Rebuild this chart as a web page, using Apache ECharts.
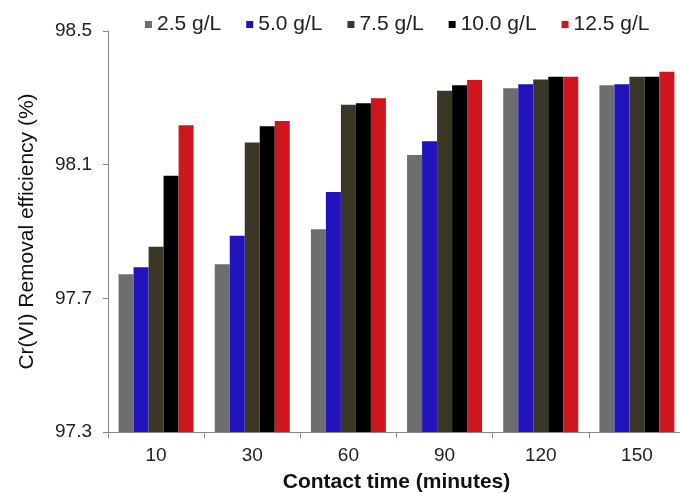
<!DOCTYPE html>
<html>
<head>
<meta charset="utf-8">
<script src="https://cdn.jsdelivr.net/npm/echarts@6/dist/echarts.min.js"></script>
<style>
  html, body { margin: 0; padding: 0; background: #fff; }
  #chart { width: 680px; height: 493px; }
</style>
</head>
<body>
<div id="chart"></div>
<script>
var categories = ["10", "30", "60", "90", "120", "150"];
var seriesNames = ["2.5 g/L", "5.0 g/L", "7.5 g/L", "10.0 g/L", "12.5 g/L"];
var dose25 = [97.772, 97.802, 97.907, 98.129, 98.329, 98.338];
var dose50 = [97.793, 97.887, 98.018, 98.170, 98.341, 98.341];
var dose75 = [97.854, 98.166, 98.279, 98.321, 98.355, 98.363];
var dose100 = [98.067, 98.215, 98.284, 98.338, 98.363, 98.363];
var dose125 = [98.218, 98.231, 98.299, 98.353, 98.363, 98.378];
var colors = ["#6e6e6e", "#2114bd", "#3a3726", "#000000", "#cf161e"];

var font = "'Liberation Sans', Arial, sans-serif";
var values = [dose25, dose50, dose75, dose100, dose125];

var series = seriesNames.map(function (name, i) {
  return {
    name: name,
    type: "bar",
    data: values[i],
    barWidth: 15,
    barGap: "0%",
    itemStyle: { color: colors[i] }
  };
});

var myChart = echarts.init(document.getElementById("chart"));
var option = {
  animation: false,
  textStyle: { fontFamily: font },
  legend: {
    data: seriesNames,
    left: 140,
    top: 9,
    icon: "rect",
    itemWidth: 7,
    itemHeight: 7,
    itemGap: 25,
    textStyle: { fontFamily: font, fontSize: 21, color: "#222" }
  },
  grid: { left: 108, top: 31, width: 577, height: 401, outerBoundsMode: "none", containLabel: false },
  xAxis: {
    type: "category",
    data: categories,
    name: "Contact time (minutes)",
    nameLocation: "middle",
    nameGap: 40,
    nameTextStyle: { fontFamily: font, fontSize: 21, fontWeight: "bold", color: "#111" },
    axisLine: { lineStyle: { color: "#8a8a8a", width: 1 } },
    axisTick: { show: true, length: 6, lineStyle: { color: "#8a8a8a" } },
    axisLabel: { fontFamily: font, fontSize: 19, color: "#222", margin: 14 }
  },
  yAxis: {
    type: "value",
    min: 97.3,
    max: 98.5,
    interval: 0.4,
    name: "Cr(VI) Removal efficiency (%)",
    nameLocation: "middle",
    nameGap: 70,
    nameTextStyle: { fontFamily: font, fontSize: 21, color: "#111" },
    axisLine: { show: true, lineStyle: { color: "#8a8a8a", width: 1 } },
    axisTick: { show: true, length: 5, lineStyle: { color: "#8a8a8a" } },
    splitLine: { show: false },
    axisLabel: {
      fontFamily: font,
      fontSize: 19,
      color: "#222",
      margin: 16,
      formatter: function (v) { return v.toFixed(1); }
    }
  },
  series: series
};
myChart.setOption(option);
</script>
</body>
</html>
